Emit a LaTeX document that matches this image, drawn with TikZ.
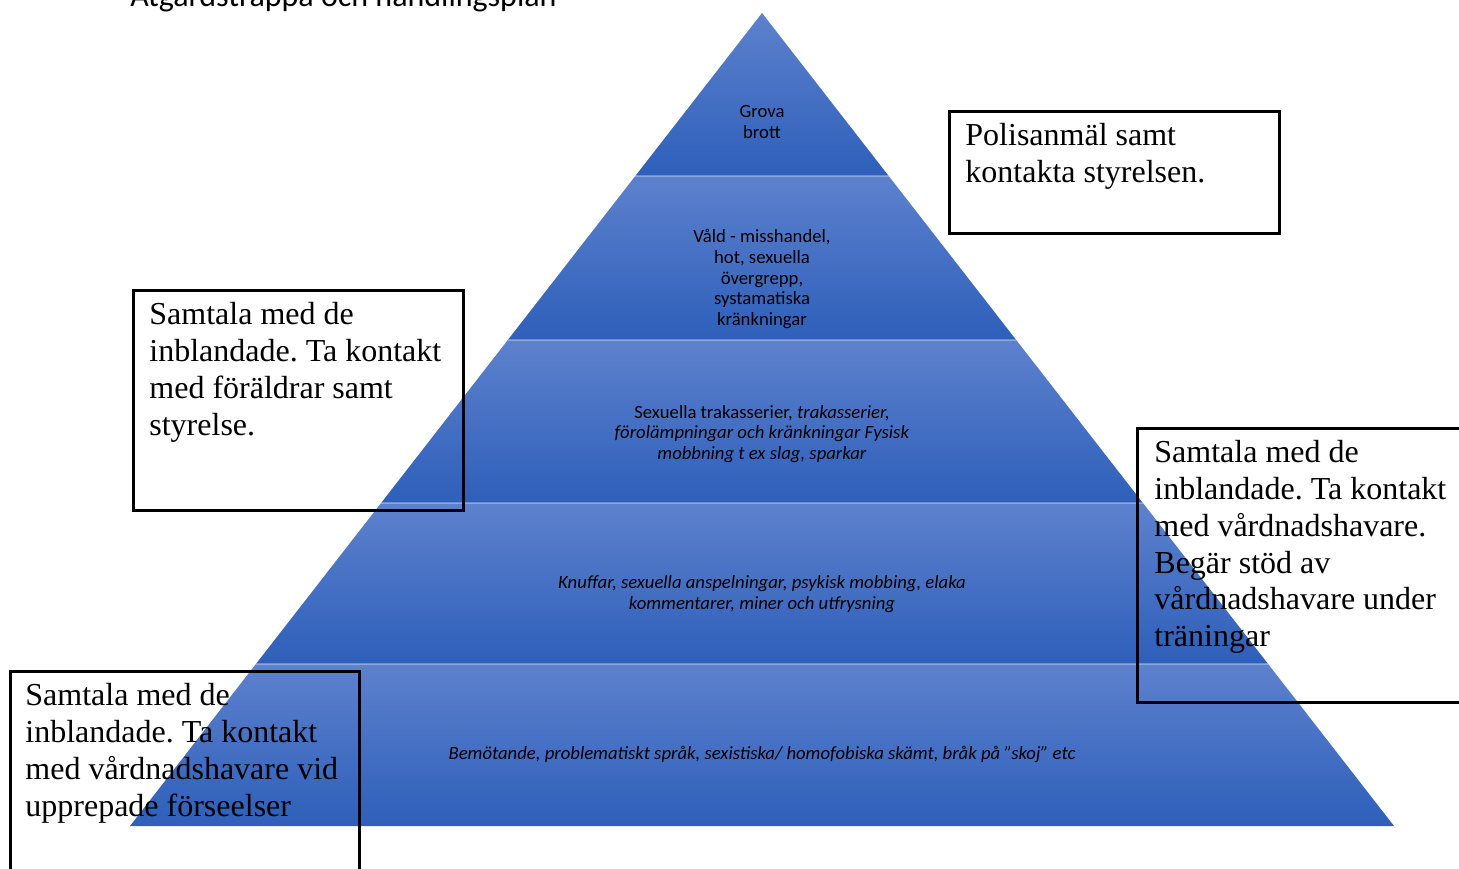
\documentclass[tikz,border=0pt]{standalone}
\usepackage{fontspec}
\setmainfont{Liberation Serif}
\newfontfamily\calibri{Carlito}
\frenchspacing
\definecolor{stepTop}{RGB}{93,129,205}
\definecolor{stepBot}{RGB}{46,95,186}
\tikzset{
	layer/.style={top color=stepTop, bottom color=stepBot},
	layerline/.style={draw=white, draw opacity=0.3, line width=0.6pt},
	notebox/.style={draw=black, line width=1.5pt},
	notetext/.style={anchor=north west, inner sep=0pt, align=left, font=\fontsize{16}{18.4}\selectfont},
	layertext/.style={inner sep=0pt, align=center, text=black, font=\calibri\fontsize{9.35}{10.35}\selectfont},
}

\begin{document}
\begin{tikzpicture}[x=0.5pt,y=0.5pt,yscale=-1,xscale=1]
		\useasboundingbox (0,0) rectangle (1459,868);
		\clip (0,0) rectangle (1459,868);
		% heading, cut off by the page
		\node [anchor=base west, inner sep=0pt, font=\calibri\fontsize{16}{19}\selectfont] (title) at (130,6) {Åtgärdstrappa och handlingsplan};
		% pyramid steps
		\shade [layer] (762,13) -- (888.7,176) -- (635.3,176) -- cycle ;
		\shade [layer] (635.3,176) -- (888.7,176) -- (1016.2,340) -- (507.8,340) -- cycle ;
		\shade [layer] (507.8,340) -- (1016.2,340) -- (1142.9,503) -- (381.1,503) -- cycle ;
		\shade [layer] (381.1,503) -- (1142.9,503) -- (1268.1,664) -- (255.9,664) -- cycle ;
		\shade [layer] (255.9,664) -- (1268.1,664) -- (1394,826) -- (130,826) -- cycle ;
		\draw [layerline] (635.3,176) -- (888.7,176) ;
		\draw [layerline] (507.8,340) -- (1016.2,340) ;
		\draw [layerline] (381.1,503) -- (1142.9,503) ;
		\draw [layerline] (255.9,664) -- (1268.1,664) ;
		\node [layertext] (grova) at (762,122) {Grova\\brott};
		\node [layertext] (vald) at (762,279) {Våld - misshandel,\\hot, sexuella\\övergrepp,\\systamatiska\\kränkningar};
		\node [layertext] (sexuella) at (762,434) {Sexuella trakasserier, \textit{trakasserier,}\\\textit{förolämpningar och kränkningar Fysisk}\\\textit{mobbning t ex slag, sparkar}};
		\node [layertext] (knuffar) at (762,594) {\textit{Knuffar, sexuella anspelningar, psykisk mobbing, elaka}\\\textit{kommentarer, miner och utfrysning}};
		\node [layertext] (bemot) at (762,754) {\textit{Bemötande, problematiskt språk, sexistiska/ homofobiska skämt, bråk på ”skoj” etc}};
		% action boxes
		\draw [notebox] (949,111) rectangle (1279,233) ;
		\draw [notebox] (133,290) rectangle (463,510) ;
		\draw [notebox] (1137,428) rectangle (1480,702) ;
		\draw [notebox] (10,671) rectangle (359,890) ;
		\node [notetext] (polis) at (965,123) {Polisanmäl samt\\kontakta styrelsen.};
		\node [notetext] (foraldrar) at (149,302) {Samtala med de\\inblandade. Ta kontakt\\med föräldrar samt\\styrelse.};
		\node [notetext] (stod) at (1154,440) {Samtala med de\\inblandade. Ta kontakt\\med vårdnadshavare.\\Begär stöd av\\vårdnadshavare under\\träningar};
		\node [notetext] (upprepade) at (25,683) {Samtala med de\\inblandade. Ta kontakt\\med vårdnadshavare vid\\upprepade förseelser};
\end{tikzpicture}
\end{document}
